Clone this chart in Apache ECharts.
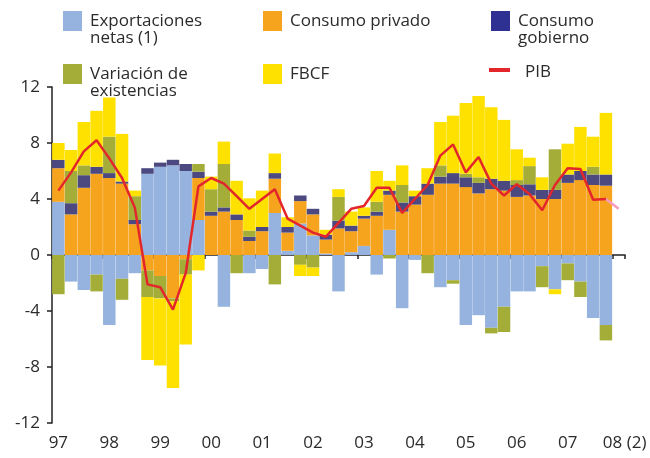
<!DOCTYPE html>
<html>
<head>
<meta charset="utf-8">
<script src="https://cdn.jsdelivr.net/npm/echarts@6/dist/echarts.min.js"></script>
<style>
html,body{margin:0;padding:0;background:#fff;}
#chart{width:650px;height:458px;}
</style>
</head>
<body>
<div id="chart"></div>
<script>
// Years shown on the axis (labels at Q1 of each year)
const years = ['97','98','99','00','01','02','03','04','05','06','07','08'];
const yearLabels = ['97','98','99','00','01','02','03','04','05','06','07','08 (2)'];
// Quarterly categories 1997 T1 .. 2008 T1
const categories = [];
years.forEach(function(y){ ['I','II','III','IV'].forEach(function(q){ if (categories.length < 45) categories.push(y + '-' + q); }); });

// Contributions (percentage points)
const exportaciones = [3.8,-1.9,-2.5,-1.4,-5.0,-1.7,-1.3,5.8,6.3,6.4,6.0,2.5,0,-3.7,0,-1.3,-1.0,3.0,0.3,2.25,1.4,0.1,-2.6,0.2,0.65,-1.4,1.8,-3.8,-0.35,0,-2.3,-1.8,-5.0,-4.3,-5.2,-3.7,-2.6,-2.6,-0.8,-2.45,-0.6,-1.9,-4.5,-5.0,null];
const consumoPrivado = [2.4,2.9,4.8,5.8,5.5,5.1,2.2,-1.1,-1.5,-3.1,-0.3,3.0,2.8,3.1,2.5,1.0,1.7,2.45,1.3,1.6,1.5,1.0,1.9,1.5,1.95,2.8,2.5,3.1,3.6,4.3,5.1,5.1,4.85,4.4,4.7,4.6,4.15,4.25,4.0,4.0,5.15,5.35,5.0,4.95,null];
const consumoGobierno = [0.6,0.8,0.9,0.5,0.35,0.15,0.3,0.4,0.3,0.4,0.5,0.45,0.3,0.3,0.4,0.3,0.3,0.4,0.4,0.4,0.4,0.35,0.55,0.4,0.2,0.3,0.3,0.65,0.6,0.8,0.5,0.75,0.7,0.75,0.75,0.7,0.85,0.8,0.65,0.65,0.6,0.65,0.75,0.8,null];
const variacionExistencias = [-2.8,2.3,0.7,-1.2,2.6,-1.5,1.7,-1.9,-1.6,-0.2,-1.1,0.55,1.6,3.1,-1.3,0.45,0,-2.1,0,-0.7,-0.9,0,1.7,0,0,0.7,-0.25,1.25,0,-1.3,0.8,-0.25,0.25,0.4,-0.4,-1.8,0.35,1.3,-1.5,2.9,-1.2,-1.1,0.55,-1.1,null];
const fbcf = [1.2,1.5,3.1,4.0,2.8,3.4,0.4,-4.5,-4.8,-6.2,-5.0,-1.1,0.9,1.6,2.4,2.3,2.6,1.4,0.7,-0.8,-0.6,0.35,0.55,1.0,0.6,2.2,0.7,1.4,0.4,1.1,3.1,4.1,5.05,5.8,5.1,4.35,2.2,0.6,0.9,-0.35,2.2,3.15,2.15,4.4,null];
// PIB growth (%), last point (08 T1) drawn as the pink extension
const pib = [4.6,5.9,7.4,8.2,6.9,5.5,3.4,-2.1,-2.3,-3.9,-1.3,4.9,5.5,5.1,4.2,3.3,4.0,4.7,2.6,2.1,1.6,1.3,2.3,3.3,3.5,4.8,4.8,3.0,4.0,5.0,7.1,7.9,5.9,7.0,5.1,4.25,5.05,4.35,3.2,5.0,6.2,6.15,3.95,4.0,3.3];
const yTicks = [-12,-8,-4,0,4,8,12];

const C = {
  exp:'#95B3DE', priv:'#F6A31E', gov:'#4C4980', govLegend:'#2E3192', vari:'#A4AD37', fbcf:'#FFE100', pib:'#E3262B', pibExt:'#F59BBF'
};
const FONT = '"Open Sans", "Noto Sans", sans-serif';
const TXT = '#2b2b2b';

const pibMain = pib.map(function(v,i){ return i < pib.length - 1 ? v : null; });
const pibExt = pib.map(function(v,i){ return i >= pib.length - 2 ? v : null; });

function barSeries(name, data, color){
  return { name:name, type:'bar', stack:'total', data:data, barCategoryGap:'2%',
    itemStyle:{color:color}, emphasis:{disabled:true}, xAxisIndex:0 };
}

const legendItems = [
  {x:63, y:11, color:C.exp, text:'Exportaciones\nnetas (1)'},
  {x:263, y:11, color:C.priv, text:'Consumo privado'},
  {x:491, y:11, color:C.govLegend, text:'Consumo\ngobierno'},
  {x:63, y:64, color:C.vari, text:'Variación de\nexistencias'},
  {x:263, y:64, color:C.fbcf, text:'FBCF'}
];
const graphic = [];
legendItems.forEach(function(it){
  graphic.push({type:'rect', shape:{x:it.x, y:it.y, width:19, height:20}, style:{fill:it.color}});
  graphic.push({type:'text', x:it.x + 27, y:it.y + 2, style:{text:it.text, fontSize:17, fontFamily:FONT, fill:TXT, lineHeight:17, verticalAlign:'top', align:'left'}});
});
graphic.push({type:'line', shape:{x1:489, y1:70, x2:510, y2:70}, style:{stroke:C.pib, lineWidth:4}});
graphic.push({type:'text', x:525, y:64, style:{text:'PIB', fontSize:17, fontFamily:FONT, fill:TXT, lineHeight:17, verticalAlign:'top', align:'left'}});

const chart = echarts.init(document.getElementById('chart'));
chart.setOption({
  animation:false,
  backgroundColor:'#fff',
  grid:{left:52, right:25, top:87, bottom:35, containLabel:false},
  graphic:graphic,
  xAxis:[
    { type:'category', data:categories, position:'bottom', boundaryGap:true,
      axisLine:{show:false, onZero:false}, axisTick:{show:false},
      axisLabel:{ interval:function(i){ return i % 4 === 0; }, margin:12,
        fontSize:17, fontFamily:FONT, color:TXT,
        formatter:function(v, i){ var lab = yearLabels[Math.floor(i/4)]; return i === 44 ? '{last|' + lab + '}' : lab; },
        rich:{ last:{fontSize:17, fontFamily:FONT, color:TXT, padding:[0,0,0,12]} } },
      splitLine:{show:false} },
    { type:'category', data:categories, position:'top', boundaryGap:true,
      axisLine:{show:true, onZero:true, lineStyle:{color:'#231f20', width:1.5}},
      axisTick:{show:true, inside:true, length:4, interval:function(i){ return i % 4 === 0; }, lineStyle:{color:'#231f20', width:1.5}},
      axisLabel:{show:false}, splitLine:{show:false} }
  ],
  yAxis:{ type:'value', min:yTicks[0], max:yTicks[yTicks.length-1], interval:4,
    axisLine:{show:true, lineStyle:{color:'#231f20', width:1.5}},
    axisTick:{show:true, length:5, lineStyle:{color:'#231f20', width:1.5}},
    axisLabel:{margin:12, fontSize:17, fontFamily:FONT, color:TXT},
    splitLine:{show:false} },
  series:[
    barSeries('Exportaciones netas (1)', exportaciones, C.exp),
    barSeries('Consumo privado', consumoPrivado, C.priv),
    barSeries('Consumo gobierno', consumoGobierno, C.gov),
    barSeries('Variación de existencias', variacionExistencias, C.vari),
    barSeries('FBCF', fbcf, C.fbcf),
    { name:'PIB', type:'line', data:pibMain, symbol:'none', z:5, xAxisIndex:0,
      lineStyle:{color:C.pib, width:2.5}, itemStyle:{color:C.pib}, emphasis:{disabled:true} },
    { name:'PIB (ext)', type:'line', data:pibExt, symbol:'none', z:4, xAxisIndex:0,
      lineStyle:{color:C.pibExt, width:2.5}, itemStyle:{color:C.pibExt}, emphasis:{disabled:true} }
  ]
});
</script>
</body>
</html>
